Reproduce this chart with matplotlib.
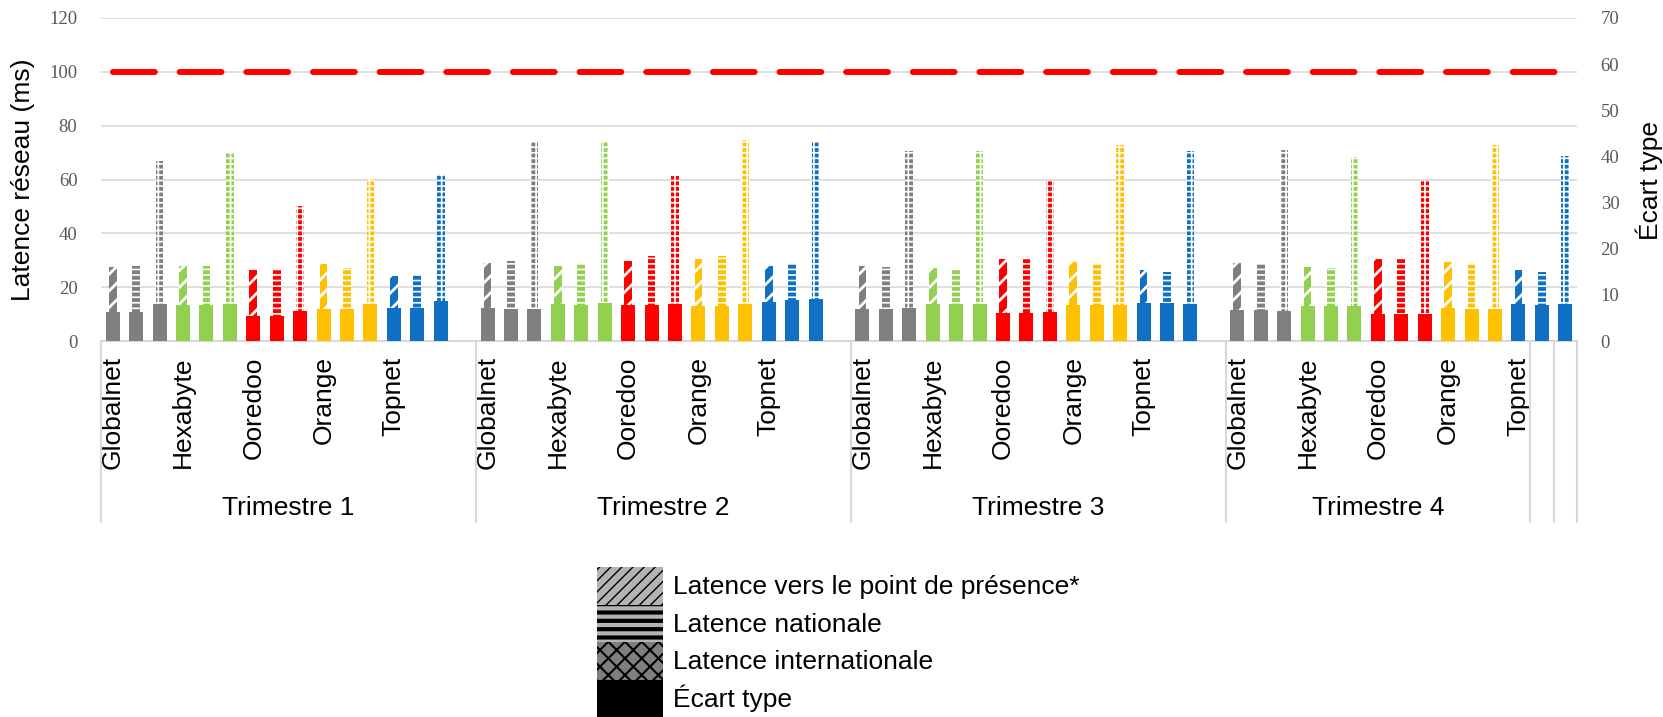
import matplotlib
matplotlib.use('Agg')
import matplotlib.pyplot as plt
import matplotlib.transforms as mtransforms
from matplotlib.patches import Patch
import numpy as np

# ---------------- data ----------------
trimestres = ['Trimestre 1', 'Trimestre 2', 'Trimestre 3', 'Trimestre 4']
operateurs = ['Globalnet', 'Hexabyte', 'Ooredoo', 'Orange', 'Topnet']
couleurs = ['#7F7F7F', '#92D050', '#FF0000', '#FFC000', '#1070C4']

# latency (ms) per trimester, per operator
latence_pop = [
    [27.6, 28.0, 26.4, 28.7, 24.3],
    [29.0, 28.0, 29.7, 30.6, 28.0],
    [28.0, 27.2, 30.6, 29.5, 26.5],
    [29.0, 27.6, 30.6, 29.5, 26.5],
]
latence_nat = [
    [28.0, 28.0, 26.4, 27.2, 24.6],
    [29.7, 28.7, 31.7, 31.7, 28.7],
    [27.6, 26.9, 30.6, 28.7, 25.7],
    [28.7, 27.2, 30.6, 28.7, 25.7],
]
latence_int = [
    [66.9, 70.0, 50.1, 60.1, 62.0],
    [74.0, 74.0, 61.3, 74.7, 74.0],
    [70.7, 70.7, 59.6, 72.9, 70.7],
    [70.9, 68.5, 59.6, 72.9, 68.8],
]
# standard deviation per trimester, per operator, per latency type (pop, nat, int)
ecart_type = [
    [[6.35, 6.35, 8.1], [7.9, 7.9, 8.1], [5.5, 5.5, 6.6], [7.0, 7.0, 8.1], [7.2, 7.2, 8.7]],
    [[7.2, 7.0, 7.0], [8.1, 7.9, 8.3], [7.9, 7.9, 8.1], [7.65, 7.65, 8.1], [8.5, 8.95, 9.2]],
    [[7.0, 7.0, 7.2], [8.1, 8.1, 8.1], [6.1, 6.1, 6.35], [7.9, 7.9, 7.9], [8.3, 8.3, 8.1]],
    [[6.8, 6.8, 6.6], [7.65, 7.65, 7.65], [5.9, 5.9, 5.9], [7.2, 7.0, 7.0], [8.1, 7.9, 8.1]],
]
seuil = 100
legende = ['Latence vers le point de présence*', 'Latence nationale',
           'Latence internationale', 'Écart type']

# ---------------- layout ----------------
plt.rcParams['font.family'] = ['Liberation Sans', 'DejaVu Sans']
W, H = 1663, 717
fig = plt.figure(figsize=(W / 100, H / 100), dpi=100)
fig.patch.set_facecolor('white')
ax = fig.add_axes([101 / W, 1 - 341 / H, 1476 / W, 323 / H])
ax2 = ax.twinx()

debut_groupes = [0, 16, 32, 48]
limites = [-0.5, 15.5, 31.5, 47.5, 60.5, 61.5, 62.5]
n_cat = 63

styles = [('//', 2.0), ('---', 1.2), ('+++', 1.2)]
series = [latence_pop, latence_nat, latence_int]


def set_hlw(p, lw):
    try:
        p.set_hatch_linewidth(lw)
    except Exception:
        pass


for t in range(len(trimestres)):
    for o in range(len(operateurs)):
        for k in range(3):
            x = debut_groupes[t] + 3 * o + k
            hatch, hlw = styles[k]
            with plt.rc_context({'hatch.linewidth': hlw}):
                bars = ax.bar(x, series[k][t][o], width=0.33, color=couleurs[o],
                              edgecolor='white', hatch=hatch, linewidth=0, zorder=2)
            for p in bars:
                set_hlw(p, hlw)
            ax2.bar(x, ecart_type[t][o][k], width=0.6, color=couleurs[o],
                    linewidth=0, zorder=3)

cats = np.arange(n_cat)
ax.plot(cats, [seuil] * n_cat, color='#FF0000', lw=4.3,
        linestyle=(0, (7.0, 4.16)), dash_capstyle='round', zorder=5)

ax.set_xlim(-0.5, n_cat - 0.5)
ax.set_ylim(0, 120)
ax2.set_ylim(0, 70)
ax.set_yticks(range(0, 121, 20))
ax2.set_yticks(range(0, 71, 10))
ax.yaxis.grid(True, color='#D9D9D9', lw=1.2)
ax.set_axisbelow(True)

for a in (ax, ax2):
    for s in ('top', 'left', 'right', 'bottom'):
        a.spines[s].set_visible(False)
ax.spines['bottom'].set_visible(True)
ax.spines['bottom'].set_color('#D9D9D9')
ax.spines['bottom'].set_linewidth(1.5)

ax.tick_params(axis='y', length=0, pad=17, labelsize=13.5, labelcolor='#595959')
ax2.tick_params(axis='y', length=0, pad=17, labelsize=13.5, labelcolor='#595959')
for lab in ax.get_yticklabels() + ax2.get_yticklabels():
    lab.set_fontfamily(['Liberation Serif', 'DejaVu Serif'])

pos_labels = []
txt_labels = []
for t in range(len(trimestres)):
    for o in range(len(operateurs)):
        pos_labels.append(debut_groupes[t] + 3 * o)
        txt_labels.append(operateurs[o])
ax.set_xticks(pos_labels)
ax.set_xticklabels(txt_labels, rotation=90, fontsize=19)
ax.tick_params(axis='x', length=0, pad=11)

trans = mtransforms.blended_transform_factory(ax.transData, ax.transAxes)
y_bas = (341 - 522) / 323
for xb in limites:
    ax.plot([xb, xb], [0, y_bas], transform=trans, color='#D9D9D9', lw=1.5,
            clip_on=False, zorder=1)
y_grp = (341 - 515) / 323
for t, nom in enumerate(trimestres):
    xc = (limites[t] + limites[t + 1]) / 2
    ax.text(xc, y_grp, nom, transform=trans, ha='center', va='baseline', fontsize=19)

fig.text(23 / W, 1 - 180 / H, 'Latence réseau (ms)', rotation=90, ha='center',
         va='center', fontsize=19)
fig.text(1649 / W, 1 - 180 / H, 'Écart type', rotation=90, ha='center',
         va='center', fontsize=19)

# legend
leg_styles = [('#B4B4B4', '///', 1.0), ('#B4B4B4', '--', 3.0), ('#7F7F7F', 'xx', 1.5), ('black', None, 0.1)]
handles = []
for (fc, hatch, hlw), nom in zip(leg_styles, legende):
    p = Patch(facecolor=fc, edgecolor='black', hatch=hatch, linewidth=0, label=nom)
    handles.append(p)
leg = fig.legend(handles=handles, loc='upper left', bbox_to_anchor=(597 / W, 1 - 567 / H),
                 frameon=False, fontsize=19, handlelength=2.5, handleheight=1.81,
                 labelspacing=0, handletextpad=0.39, borderpad=0, borderaxespad=0)
for p, (fc, hatch, hlw) in zip(leg.get_patches(), leg_styles):
    set_hlw(p, hlw)

fig.savefig('out.png', dpi=100, facecolor='white')
